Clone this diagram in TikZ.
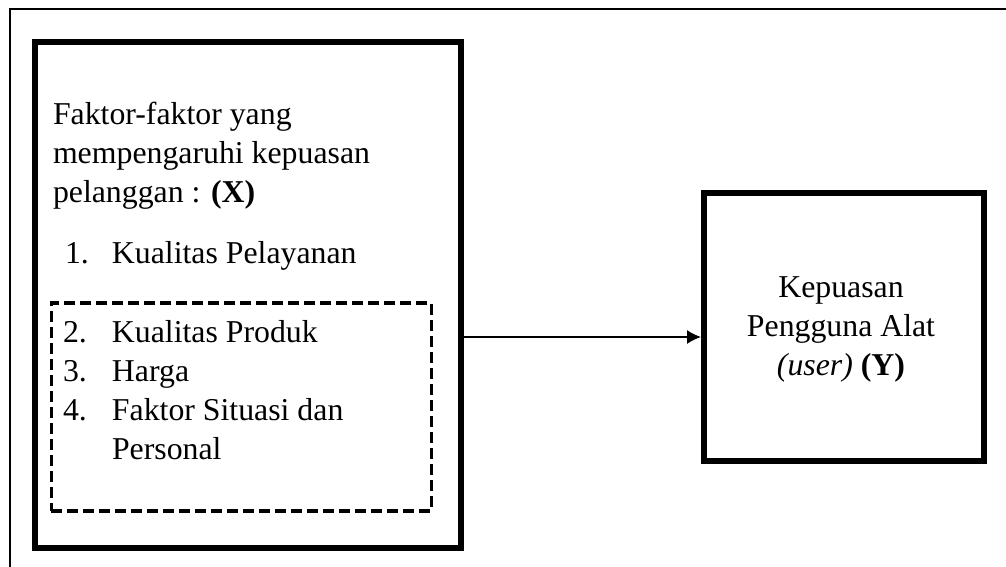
\documentclass[tikz,border=0pt]{standalone}
\usepackage{fontspec}
\setmainfont{Liberation Serif}
\usepackage{tikz}
\usetikzlibrary{calc,arrows.meta}

\tikzset{
  kotak/.style={draw, line width=3pt, inner sep=0pt},
  kotakputus/.style={draw, line width=1.9pt, dash pattern=on 5.5pt off 2.5pt, inner sep=0pt},
  teks/.style={font=\fontsize{15.9}{19.5}\selectfont, inner sep=0pt, outer sep=0pt}
}

\begin{document}
\begin{tikzpicture}[x=0.5pt,y=-0.5pt]
  \useasboundingbox (0,0) rectangle (1006,567);
    % 
  \draw[line width=1pt] (10,567) -- (10,9) -- (1006,9);

  \node[kotak, anchor=north west, minimum width=213pt, minimum height=253pt] (boxX) at (32,39) {};
  \node[kotakputus, anchor=north west, minimum width=190pt, minimum height=104pt] (boxLain) at (49.5,301) {};
  \node[kotak, anchor=north west, minimum width=140pt, minimum height=134pt] (boxY) at (701,190) {};

  \node[teks, anchor=base west] (judulX) at (53,125)
  {
  \begin{tabular}[t]{@{}l@{}}
  Faktor-faktor yang \\
  mempengaruhi kepuasan \\
  pelanggan : \textbf{(X)} \\
  \end{tabular}
  };
  \node[teks, anchor=base west] (item1) at (65,263)
  {\makebox[23.5pt][l]{1.}Kualitas Pelayanan};
  \node[teks, anchor=base west] (itemLain) at (63,342)
  {
  \begin{tabular}[t]{@{}p{24.5pt}@{}l@{}}
  2. & Kualitas Produk \\
  3. & Harga \\
  4. & Faktor Situasi dan \\
     & Personal \\
  \end{tabular}
  };
  \node[teks, anchor=base] (judulY) at (841,297)
  {
  \begin{tabular}[t]{@{}c@{}}
  Kepuasan \\
  Pengguna Alat \\
  \textit{(user)} \textbf{(Y)} \\
  \end{tabular}
  };

  \coordinate (panah) at (0,337);
  \draw[-{Latex[length=7pt,width=7pt]}, line width=0.75pt] (boxX.east |- panah) -- (boxY.west |- panah);

\end{tikzpicture}
\end{document}
